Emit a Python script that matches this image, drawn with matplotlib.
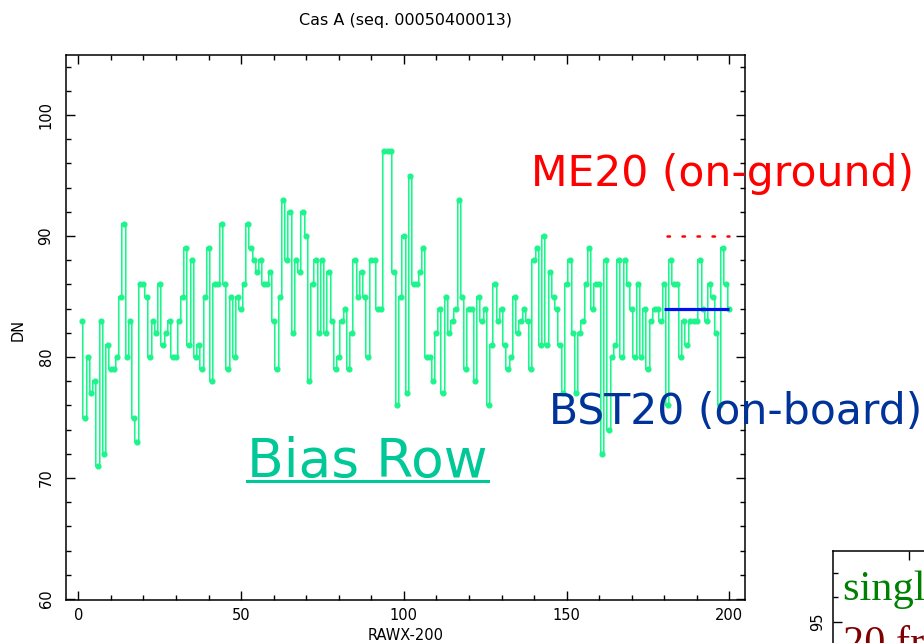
import numpy as np
import matplotlib
matplotlib.use("Agg")
import matplotlib.pyplot as plt
from matplotlib.ticker import MultipleLocator
from matplotlib.lines import Line2D

# ---------------- data ----------------
rawx = np.arange(1, 201)
dn = [
    83, 75, 80, 77, 78, 71, 83, 72, 81, 79,
    79, 80, 85, 91, 80, 83, 75, 73, 86, 86,
    85, 80, 83, 82, 86, 81, 82, 83, 80, 80,
    83, 85, 89, 81, 88, 80, 81, 79, 85, 89,
    78, 86, 86, 91, 86, 79, 85, 80, 85, 84,
    86, 91, 89, 88, 87, 88, 86, 86, 87, 83,
    79, 85, 93, 88, 92, 82, 88, 87, 92, 90,
    78, 86, 88, 82, 88, 82, 87, 83, 79, 80,
    83, 84, 79, 82, 88, 85, 87, 85, 80, 88,
    88, 84, 84, 97, 97, 97, 87, 76, 85, 90,
    77, 95, 86, 86, 87, 89, 80, 80, 78, 82,
    84, 77, 85, 82, 83, 84, 93, 85, 79, 84,
    84, 78, 85, 83, 84, 76, 81, 86, 83, 84,
    81, 79, 80, 85, 82, 83, 84, 83, 79, 88,
    89, 81, 90, 81, 87, 85, 84, 81, 77, 86,
    88, 82, 77, 82, 83, 86, 89, 84, 86, 86,
    72, 88, 74, 80, 81, 88, 80, 88, 86, 84,
    80, 86, 80, 84, 79, 83, 84, 84, 83, 86,
    76, 88, 86, 86, 80, 83, 81, 83, 83, 83,
    88, 84, 83, 86, 85, 82, 76, 89, 86, 84,
]
ref_x = [180, 200]
me20 = [90, 90]      # on-ground level
bst20 = [84, 84]     # on-board level

title = "Cas A (seq. 00050400013)"
xlabel = "RAWX-200"
ylabel = "DN"

W, H = 924, 643
fig = plt.figure(figsize=(W / 100, H / 100), dpi=100)

def fx(px):
    return px / W

def fy(py):
    return 1 - py / H

# ---------------- main axes ----------------
ax = fig.add_axes([fx(66), fy(600), (745 - 66) / W, (600 - 55) / H])
ax.set_xlim(-3.8, 204.8)
ax.set_ylim(59.92, 104.96)

edges = np.append(rawx - 0.5, rawx[-1] + 0.5)
green = "#1EF48C"
ax.stairs(dn, edges, baseline=None, color=green, lw=1.5)
ax.stairs(dn, edges, baseline=None, color="#B0FFD6", lw=0.45)
ax.plot(rawx, dn, "o", ls="none", color=green, ms=3.4, mec=green)

ax.plot(ref_x, me20, color="#FF0000", lw=1.8, ls=(4.8, (1.0, 5.0)),
        dash_capstyle="round")
ax.plot(ref_x, bst20, color="#0010F0", lw=2.3, solid_capstyle="butt")

ax.xaxis.set_major_locator(MultipleLocator(50))
ax.xaxis.set_minor_locator(MultipleLocator(10))
ax.yaxis.set_major_locator(MultipleLocator(10))
ax.yaxis.set_minor_locator(MultipleLocator(2))
ax.tick_params(which="both", direction="in", top=True, right=True,
               width=1.0, color="black", labelsize=10.5)
ax.tick_params(which="major", length=6.5)
ax.tick_params(which="minor", length=3.6)
ax.tick_params(axis="x", pad=6)
ax.tick_params(axis="y", pad=9)
for lab in ax.get_yticklabels():
    lab.set_rotation(90)
    lab.set_va("center")
for s in ax.spines.values():
    s.set_linewidth(1.1)

fig.text(fx(405.5), fy(20), title, ha="center", va="center", fontsize=11.5)
fig.text(fx(405.5), fy(635), xlabel, ha="center", va="center", fontsize=10.5)
fig.text(fx(18), fy(330), ylabel, ha="center", va="center", fontsize=10.5,
         rotation=90)

# ---------------- annotations ----------------
fig.text(fx(531), fy(186), "ME20 (on-ground)", color="#FF0000",
         fontsize=30.6, ha="left", va="baseline")
fig.text(fx(549), fy(424), "BST20 (on-board)", color="#003399",
         fontsize=30.6, ha="left", va="baseline")
bias = fig.text(fx(247), fy(477), "Bias Row", color="#00C896",
                fontsize=38.5, ha="left", va="baseline")

fig.canvas.draw()
bb = bias.get_window_extent(renderer=fig.canvas.get_renderer())
uy = fy(481)
fig.add_artist(Line2D([bb.x0 / W, bb.x1 / W], [uy, uy], color="#00C896",
                      lw=2.2, transform=fig.transFigure))

# ---------------- partial neighbouring panel (bottom right) ----------------
ax2 = fig.add_axes([fx(833), fy(850.7), 300 / W, 300 / H])
ax2.set_xlim(0, 300)
ax2.set_ylim(97.91 - 300 / 24.4, 97.91)
ax2.set_xticks([76])
ax2.set_yticks([95])
ax2.yaxis.set_minor_locator(MultipleLocator(1))
ax2.tick_params(which="both", direction="in", top=True, right=True,
                labelbottom=False, labelsize=10.5, width=1.0)
ax2.tick_params(which="major", length=6.5, pad=6)
ax2.tick_params(which="minor", length=3.6)
for lab in ax2.get_yticklabels():
    lab.set_rotation(90)
    lab.set_va("center")
for s in ax2.spines.values():
    s.set_linewidth(1.1)

fig.text(fx(843), fy(600), "single frame", color="#008000", fontsize=30.5,
         family="Liberation Serif", ha="left", va="baseline")
fig.text(fx(843), fy(655), "20 frames", color="#800000", fontsize=30.5,
         family="Liberation Serif", ha="left", va="baseline")

fig.savefig("out.png", dpi=100)
